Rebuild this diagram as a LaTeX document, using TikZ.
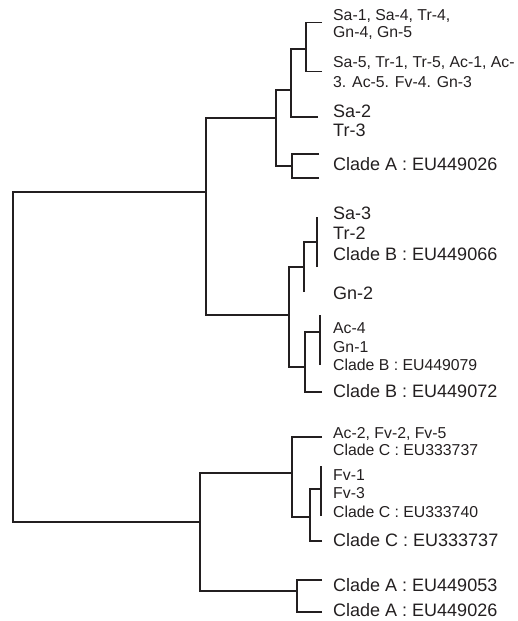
\documentclass[tikz,border=0pt]{standalone}
\usepackage{fontspec}
\setmainfont{Liberation Sans}
\definecolor{ink}{HTML}{231F20}
\begin{document}
\begin{tikzpicture}[x=1pt,y=-1pt,
  branch/.style={draw=ink,line width=1.5pt,line join=miter},
  lblS/.style={anchor=base west,inner sep=0pt,text=ink,font=\fontsize{15.8}{18}\selectfont},
  lblL/.style={anchor=base west,inner sep=0pt,text=ink,font=\fontsize{18}{21}\selectfont}]
\useasboundingbox (0,0) rectangle (517,621);
% internal nodes (vertical x, stem y)
\coordinate (R) at (13,357);
\coordinate (A) at (206,192);
\coordinate (A1) at (276,118);
\coordinate (A11) at (291,90);
\coordinate (A111) at (306,49);
\coordinate (A12) at (292,166);
\coordinate (A2) at (289,315);
\coordinate (A21) at (304,267);
\coordinate (A211) at (317,242);
\coordinate (A22) at (305,367);
\coordinate (A221) at (320,332);
\coordinate (B) at (200,522);
\coordinate (B1) at (292,473);
\coordinate (B11) at (310,517);
\coordinate (B111) at (321,489);
\coordinate (B2) at (297,591);
% leaf tips
\coordinate (l1) at (322,22.7);
\coordinate (l2) at (322,71.7);
\coordinate (l3) at (318,117);
\coordinate (l4) at (319,154);
\coordinate (l5) at (319,178);
\coordinate (l6) at (317,217);
\coordinate (l7) at (317,267);
\coordinate (l8) at (304,292);
\coordinate (l9) at (320,315);
\coordinate (l10) at (320,365);
\coordinate (l11) at (322,392);
\coordinate (l12) at (322,437);
\coordinate (l13) at (321,466);
\coordinate (l14) at (321,516);
\coordinate (l15) at (322,541);
\coordinate (l16) at (322,580);
\coordinate (l17) at (322,612);
% branches
\draw[branch] (A) -| (R);
\draw[branch] (B) -| (R);
\draw[branch] (A1) -| (A);
\draw[branch] (A2) -| (A);
\draw[branch] (A11) -| (A1);
\draw[branch] (A12) -| (A1);
\draw[branch] (A111) -| (A11);
\draw[branch] (l3) -| (A11);
\draw[branch] (l1) -| (A111);
\draw[branch] (l2) -| (A111);
\draw[branch] (l4) -| (A12);
\draw[branch] (l5) -| (A12);
\draw[branch] (A21) -| (A2);
\draw[branch] (A22) -| (A2);
\draw[branch] (A211) -| (A21);
\draw[branch] (l8) -| (A21);
\draw[branch] (l6) -| (A211);
\draw[branch] (l7) -| (A211);
\draw[branch] (A221) -| (A22);
\draw[branch] (l11) -| (A22);
\draw[branch] (l9) -| (A221);
\draw[branch] (l10) -| (A221);
\draw[branch] (B1) -| (B);
\draw[branch] (B2) -| (B);
\draw[branch] (l12) -| (B1);
\draw[branch] (B11) -| (B1);
\draw[branch] (B111) -| (B11);
\draw[branch] (l15) -| (B11);
\draw[branch] (l13) -| (B111);
\draw[branch] (l14) -| (B111);
\draw[branch] (l16) -| (B2);
\draw[branch] (l17) -| (B2);
% labels
\node[lblS] (t1) at (333,20.4) {Sa-1, Sa-4, Tr-4,};
\node[lblS] (t2) at (333,37.7) {Gn-4, Gn-5};
\node[lblS] (t3) at (333,67.7) {Sa-5, Tr-1, Tr-5, Ac-1, Ac-};
\node[lblS] (t4) at (333,87.2) {3. Ac-5. Fv-4. Gn-3};
\node[lblL] (t5) at (333,117.5) {Sa-2};
\node[lblL] (t6) at (333,136.5) {Tr-3};
\node[lblL] (t7) at (333,170.5) {Clade A : EU449026};
\node[lblL] (t8) at (333,219.5) {Sa-3};
\node[lblL] (t9) at (333,239.5) {Tr-2};
\node[lblL] (t10) at (333,260.5) {Clade B : EU449066};
\node[lblL] (t11) at (333,299.5) {Gn-2};
\node[lblS] (t12) at (333,333.2) {Ac-4};
\node[lblS] (t13) at (333,352.7) {Gn-1};
\node[lblS] (t14) at (333,370.7) {Clade B : EU449079};
\node[lblL] (t15) at (333,397.5) {Clade B : EU449072};
\node[lblS] (t16) at (333,438.2) {Ac-2, Fv-2, Fv-5};
\node[lblS] (t17) at (333,455.7) {Clade C : EU333737};
\node[lblS] (t18) at (333,480.7) {Fv-1};
\node[lblS] (t19) at (333,498.7) {Fv-3};
\node[lblS] (t20) at (333,517.2) {Clade C : EU333740};
\node[lblL] (t21) at (333,546.5) {Clade C : EU333737};
\node[lblL] (t22) at (333,591.5) {Clade A : EU449053};
\node[lblL] (t23) at (333,616.5) {Clade A : EU449026};
\end{tikzpicture}
\end{document}
